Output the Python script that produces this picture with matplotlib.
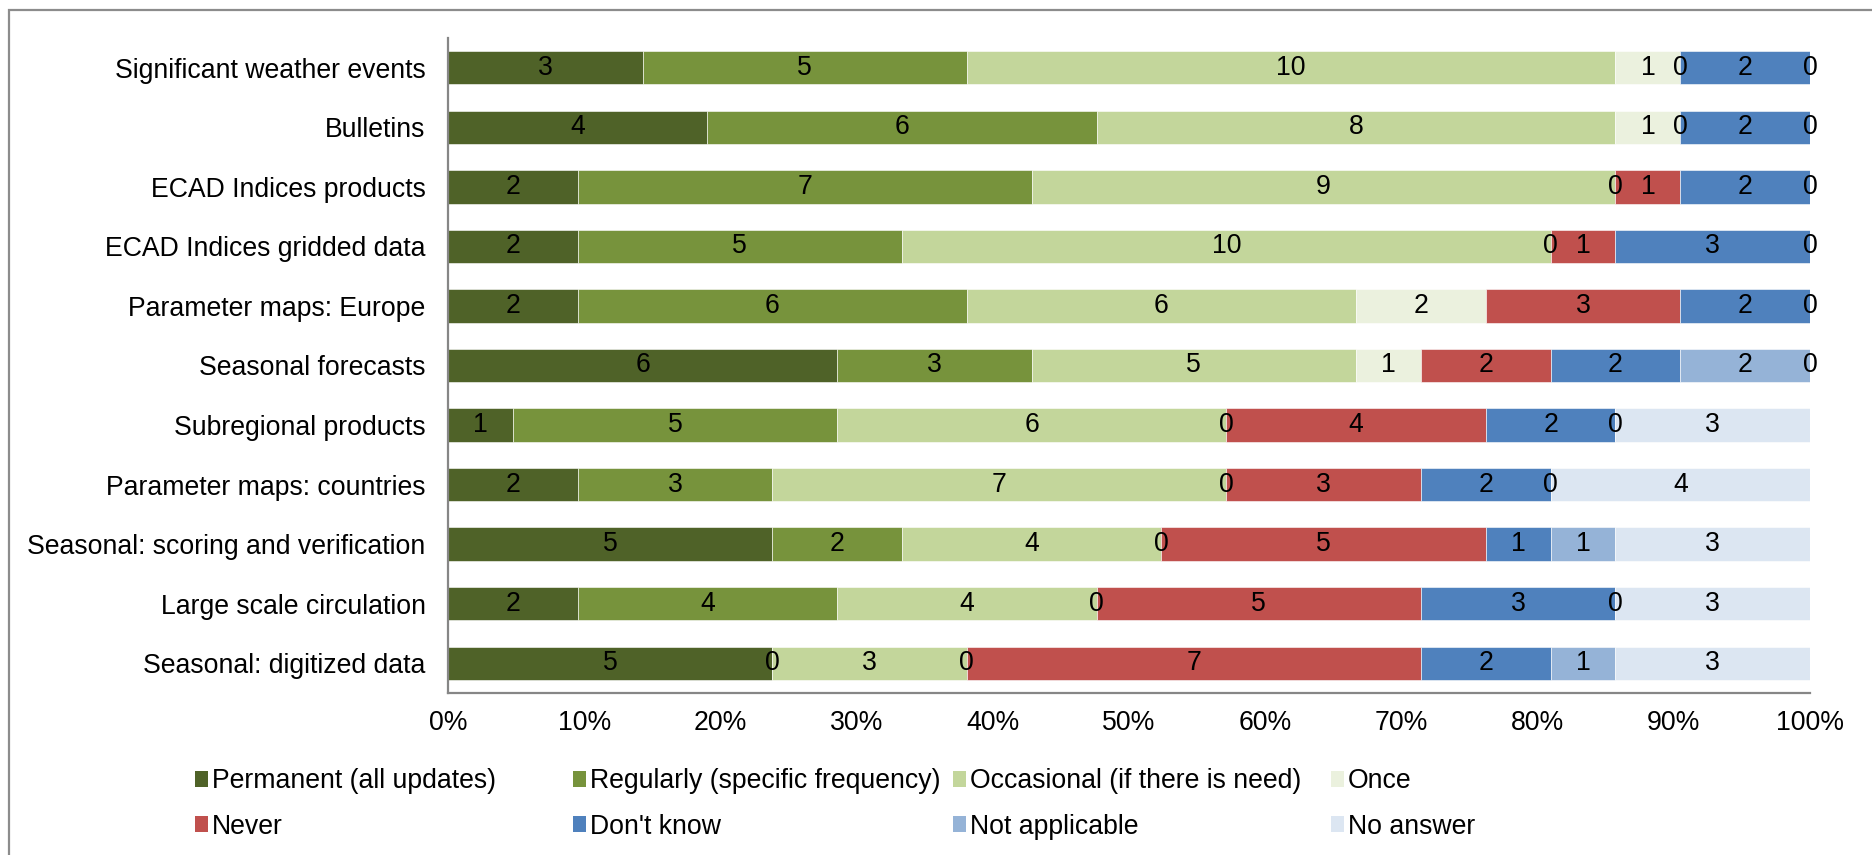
import numpy as np
import matplotlib.pyplot as plt
from matplotlib.patches import Patch, Rectangle
from matplotlib.ticker import PercentFormatter

plt.rcParams['font.family'] = ['Liberation Sans', 'DejaVu Sans']
FS = 19.2

categories = [
    'Significant weather events',
    'Bulletins',
    'ECAD Indices products',
    'ECAD Indices gridded data',
    'Parameter maps: Europe',
    'Seasonal forecasts',
    'Subregional products',
    'Parameter maps: countries',
    'Seasonal: scoring and verification',
    'Large scale circulation',
    'Seasonal: digitized data',
]

series_names = [
    'Permanent (all updates)',
    'Regularly (specific frequency)',
    'Occasional (if there is need)',
    'Once',
    'Never',
    "Don't know",
    'Not applicable',
    'No answer',
]

colors = ['#4F6228', '#77933C', '#C3D69B', '#EBF1DE',
          '#C0504D', '#4F81BD', '#95B3D7', '#DCE6F2']

nan = np.nan
permanent = [3, 4, 2, 2, 2, 6, 1, 2, 5, 2, 5]
regularly = [5, 6, 7, 5, 6, 3, 5, 3, 2, 4, 0]
occasional = [10, 8, 9, 10, 6, 5, 6, 7, 4, 4, 3]
once = [1, 1, 0, 0, 2, 1, 0, 0, 0, 0, 0]
never = [0, 0, 1, 1, 3, 2, 4, 3, 5, 5, 7]
dont_know = [2, 2, 2, 3, 2, 2, 2, 2, 1, 3, 2]
not_applicable = [0, 0, 0, 0, 0, 2, 0, 0, 1, 0, 1]
no_answer = [nan, nan, nan, nan, nan, 0, 3, 4, 3, 3, 3]

counts = np.array([permanent, regularly, occasional, once, never,
                   dont_know, not_applicable, no_answer], dtype=float)
totals = np.nansum(counts, axis=0)
shares = counts / totals * 100

fig = plt.figure(figsize=(18.72, 8.55), dpi=100)
ax = fig.add_axes([0.2393, 0.1895, 0.7276, 0.7661])

y = np.arange(len(categories))
left = np.zeros(len(categories))
for name, color, cnt, pct in zip(series_names, colors, counts, shares):
    width = np.nan_to_num(pct)
    ax.barh(y, width, left=left, height=0.56, color=color,
            edgecolor='white', linewidth=0.4, label=name)
    for yi, l, w, c in zip(y, left, width, cnt):
        if not np.isnan(c):
            ax.text(l + w / 2, yi, f'{int(c)}', ha='center', va='center',
                    fontsize=FS, color='black')
    left = left + width

ax.set_xlim(0, 100)
ax.set_ylim(len(categories) - 0.5, -0.5)
ax.set_xticks(np.arange(0, 101, 10))
ax.xaxis.set_major_formatter(PercentFormatter(decimals=0))
ax.set_yticks(y)
ax.set_yticklabels(categories)
ax.tick_params(axis='both', length=0, labelsize=FS)
ax.tick_params(axis='y', pad=16)
ax.tick_params(axis='x', pad=12)
for side in ('top', 'right'):
    ax.spines[side].set_visible(False)
for side in ('left', 'bottom'):
    ax.spines[side].set_color('#868686')
    ax.spines[side].set_linewidth(1.6)

# legend: four evenly spaced columns of two entries each
handles = [Patch(facecolor=c, edgecolor='none') for c in colors]
col_x = [0.1042, 0.3061, 0.5091, 0.7110]
for i, x in enumerate(col_x):
    fig.legend([handles[i], handles[i + 4]],
               [series_names[i], series_names[i + 4]],
               loc='center left', bbox_to_anchor=(x, 0.0597),
               frameon=False, fontsize=FS, borderpad=0, borderaxespad=0,
               handlelength=0.5, handleheight=0.55, handletextpad=0.12,
               labelspacing=0.73)

# chart area outline
fig.add_artist(Rectangle((9 / 1872, -0.1), 1.2, 1.1 - 10 / 855,
                         transform=fig.transFigure, fill=False,
                         edgecolor='#8C8C8C', linewidth=1.6))

fig.savefig('out.png', dpi=100)
